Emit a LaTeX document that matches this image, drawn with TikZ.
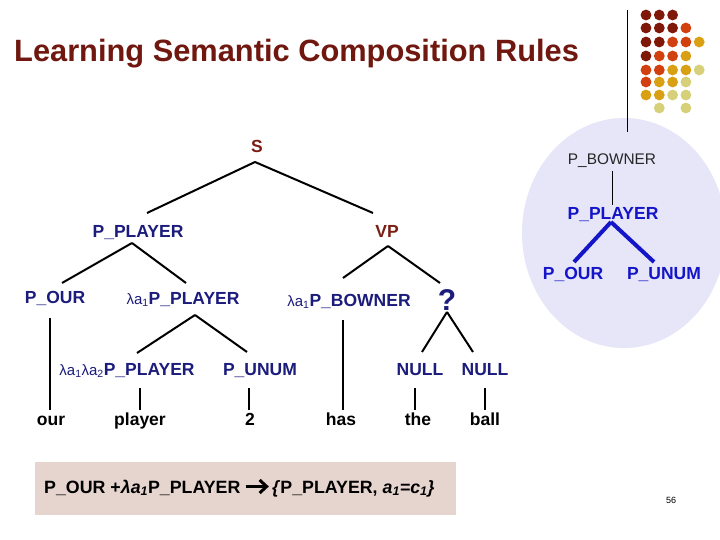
\documentclass[tikz,border=0pt]{standalone}
\usepackage{fontspec}
\setmainfont{Liberation Sans}
\usetikzlibrary{calc}
\definecolor{titlered}{RGB}{112,24,16}
\definecolor{dred}{RGB}{122,30,20}
\definecolor{navy}{RGB}{28,28,124}
\definecolor{rblue}{RGB}{20,20,200}
\definecolor{ellfill}{RGB}{230,230,248}
\definecolor{boxfill}{RGB}{230,212,206}
\definecolor{dotA}{RGB}{128,24,10}
\definecolor{dotB}{RGB}{210,64,16}
\definecolor{dotC}{RGB}{218,160,20}
\definecolor{dotD}{RGB}{214,208,120}
\newcommand{\lamsub}[1]{{\mdseries\fontsize{15}{17}\selectfont λa\textsubscript{#1}}}
\begin{document}
\begin{tikzpicture}[x=1pt,y=-1pt,
  lab/.style={font=\fontsize{17.5}{20}\selectfont\bfseries, text=navy, inner sep=0pt, anchor=base},
  word/.style={font=\fontsize{17.5}{20}\selectfont\bfseries, text=black, inner sep=0pt, anchor=base},
  rlab/.style={font=\fontsize{17.5}{20}\selectfont\bfseries, text=rblue, inner sep=0pt, anchor=base},
  ruletext/.style={font=\fontsize{17.8}{20}\selectfont\bfseries, inner sep=0pt, anchor=base west},
  tree/.style={draw=black, line width=2pt},
  rtree/.style={draw=rblue, line width=4pt},
  thin/.style={draw=black, line width=1pt}]
\useasboundingbox (0,0) rectangle (720,540);
\clip (0,0) rectangle (720,540);
\fill[white] (0,0) rectangle (720,540);

% right ellipse
\fill[ellfill] (624,233) ellipse [x radius=102, y radius=115];

% decorative dots (column index / row y / colour)
\foreach \i/\y/\c in {
  1/15/A,2/15/A,3/15/A,
  1/28/A,2/28/A,3/28/A,4/28/B,
  1/42/A,2/42/A,3/42/B,4/42/B,5/42/C,
  1/56/A,2/56/B,3/56/B,4/56/C,
  1/70/B,2/70/B,3/70/C,4/70/C,5/70/D,
  1/82/B,2/82/C,3/82/C,4/82/D,
  1/95/C,2/95/C,3/95/D,4/95/D,
  2/108/D,4/108/D}{
  \pgfmathsetmacro{\xx}{646+13.3*(\i-1)}
  \fill[dot\c] (\xx,\y) circle (5.4);
}
\coordinate (vtop) at (627,10);
\coordinate (vbot) at (627,132);
\draw[thin] (vtop) -- (vbot);

% title
\node[font=\fontsize{30.8}{34}\selectfont\bfseries, text=titlered, inner sep=0pt, anchor=base west] (title) at (14,62) {Learning Semantic Composition Rules};

% tree nodes
\node[lab, text=dred] (S) at (257,153) {S};
\node[lab] (PP) at (138,237) {P\_PLAYER};
\node[lab, text=dred] (VP) at (387,237) {VP};
\node[lab] (POUR) at (55,303) {P\_OUR};
\node[lab] (LPP) at (183,304) {\lamsub{1}P\_PLAYER};
\node[lab] (LPB) at (349,306) {\lamsub{1}P\_BOWNER};
\node[lab, font=\fontsize{30}{34}\selectfont\bfseries] (Q) at (447,310) {?};
\node[lab] (LLP) at (127,375) {\lamsub{1}\lamsub{2}P\_PLAYER};
\node[lab] (PU) at (260,375) {P\_UNUM};
\node[lab] (N1) at (420,375) {NULL};
\node[lab] (N2) at (485,375) {NULL};
\node[word] (our) at (51,425) {our};
\node[word] (player) at (140,425) {player};
\node[word] (two) at (250,425) {2};
\node[word] (has) at (341,425) {has};
\node[word] (the) at (418,425) {the};
\node[word] (ball) at (485,425) {ball};

% tree edges
\draw[tree] ($(S.base)+(-2,9)$) -- ($(PP.base)+(9,-24)$);
\draw[tree] ($(S.base)+(-2,9)$) -- ($(VP.base)+(-14,-24)$);
\draw[tree] ($(PP.base)+(-6,6)$) -- ($(POUR.base)+(7,-20)$);
\draw[tree] ($(PP.base)+(-6,6)$) -- ($(LPP.base)+(3,-21)$);
\draw[tree] ($(VP.base)+(1,9)$) -- ($(LPB.base)+(-6,-28)$);
\draw[tree] ($(VP.base)+(1,9)$) -- ($(Q.base)+(-7,-27)$);
\draw[tree] ($(LPP.base)+(12,11)$) -- ($(LLP.base)+(10,-22)$);
\draw[tree] ($(LPP.base)+(12,11)$) -- ($(PU.base)+(-13,-23)$);
\draw[tree] ($(Q.base)+(0,2)$) -- ($(N1.base)+(2,-23)$);
\draw[tree] ($(Q.base)+(0,2)$) -- ($(N2.base)+(-12,-23)$);
\draw[tree] ($(POUR.base)+(-5,15)$) -- ($(our.base)+(-1,-15)$);
\draw[tree] ($(LLP.base)+(13,13)$) -- ($(player.base)+(0,-15)$);
\draw[tree] ($(PU.base)+(-11,13)$) -- ($(two.base)+(-1,-15)$);
\draw[tree] ($(LPB.base)+(-6,14)$) -- ($(has.base)+(2,-15)$);
\draw[tree] ($(N1.base)+(-5,13)$) -- ($(the.base)+(-3,-15)$);
\draw[tree] ($(N2.base)+(0,13)$) -- ($(ball.base)+(0,-15)$);

% right ellipse tree
\node[font=\fontsize{15.4}{18}\selectfont, text=black!85, inner sep=0pt, anchor=base] (PB) at (612,165) {P\_BOWNER};
\node[rlab] (RPP) at (613,219) {P\_PLAYER};
\node[rlab] (ROUR) at (573,279) {P\_OUR};
\node[rlab] (RUN) at (664,279) {P\_UNUM};
\draw[thin] ($(PB.base)+(0,6)$) -- ($(RPP.base)+(-1,-14)$);
\draw[rtree] ($(RPP.base)+(-2,3)$) -- ($(ROUR.base)+(1,-17)$);
\draw[rtree] ($(RPP.base)+(-2,3)$) -- ($(RUN.base)+(-10,-17)$);

% bottom rule box
\node[fill=boxfill, minimum width=421, minimum height=53, inner sep=0pt, anchor=north west] (box) at (35,462) {};
\node[ruletext] (rule1) at (44,493) {P\_OUR +\textit{λa\textsubscript{1}}P\_PLAYER};
\node[ruletext] (rule2) at (272,493) {\textit{\{}P\_PLAYER, \textit{a\textsubscript{1}=c\textsubscript{1}\}}};
\draw[line width=3pt] ($(rule1.base east)+(5,-6.5)$) -- ($(rule1.base east)+(24,-6.5)$);
\draw[line width=3pt, line join=miter] ($(rule1.base east)+(19,-13)$) -- ($(rule1.base east)+(26,-6.5)$) -- ($(rule1.base east)+(19,0)$);

% page number
\node[font=\fontsize{9}{10}\selectfont, inner sep=0pt] (page) at (671,500) {56};
\end{tikzpicture}
\end{document}
